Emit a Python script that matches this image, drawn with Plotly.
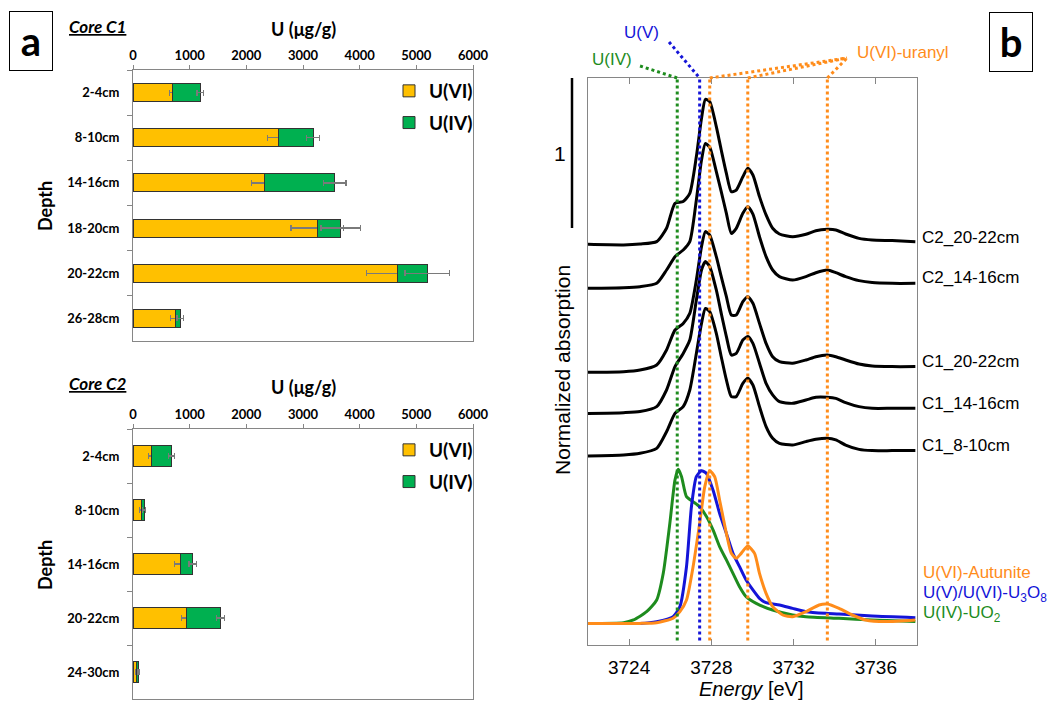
import plotly.graph_objects as go

# The page adds an 8 px body margin, so the figure is drawn 8 px smaller and
# every pixel position below is given in screenshot coordinates and shifted.
OFF = 8
W, H = 1058 - OFF, 702 - OFF

# ---------------- Panel a data ----------------
depths_c1 = ["2-4cm", "8-10cm", "14-16cm", "18-20cm", "20-22cm", "26-28cm"]
c1_u6 = [690, 2560, 2320, 3250, 4660, 745]
c1_u4 = [500, 620, 1240, 415, 530, 90]
c1_u6_err = [50, 190, 225, 460, 540, 80]
c1_u4_err = [60, 115, 200, 350, 390, 60]

depths_c2 = ["2-4cm", "8-10cm", "14-16cm", "20-22cm", "24-30cm"]
c2_u6 = [320, 150, 830, 940, 65]
c2_u4 = [360, 45, 225, 600, 40]
c2_u6_err = [50, 30, 95, 90, 20]
c2_u4_err = [50, 25, 65, 70, 15]

u_ticks = [0, 1000, 2000, 3000, 4000, 5000, 6000]

# ---------------- Panel b data ----------------
energy = [3721.95, 3723.73, 3724.53, 3725.34, 3725.82, 3726.23, 3726.63, 3726.95, 3727.27,
          3727.52, 3727.71, 3727.92, 3728.24, 3728.48, 3728.73, 3728.97, 3729.21, 3729.53,
          3729.77, 3730.02, 3730.34, 3730.66, 3730.98, 3731.31, 3731.95, 3732.60, 3733.08,
          3733.64, 3734.05, 3734.53, 3735.18, 3735.82, 3736.79, 3737.92]
c2_20_22 = [2.671, 2.667, 2.673, 2.689, 2.778, 2.944, 2.956, 3.011, 3.256, 3.511, 3.638, 3.622,
            3.456, 3.300, 3.144, 3.022, 3.033, 3.122, 3.178, 3.133, 2.989, 2.867, 2.778, 2.740,
            2.722, 2.738, 2.762, 2.771, 2.767, 2.740, 2.711, 2.700, 2.696, 2.689]
c2_14_16 = [2.378, 2.382, 2.389, 2.411, 2.500, 2.589, 2.633, 2.689, 2.967, 3.233, 3.344, 3.318,
            3.156, 3.022, 2.878, 2.744, 2.778, 2.878, 2.922, 2.873, 2.722, 2.589, 2.500, 2.456,
            2.433, 2.456, 2.482, 2.500, 2.482, 2.456, 2.429, 2.416, 2.411, 2.411]
c1_20_22 = [1.818, 1.822, 1.833, 1.867, 1.967, 2.100, 2.144, 2.211, 2.433, 2.656, 2.756, 2.733,
            2.589, 2.456, 2.322, 2.200, 2.200, 2.289, 2.322, 2.278, 2.144, 2.011, 1.922, 1.889,
            1.878, 1.900, 1.922, 1.933, 1.922, 1.900, 1.873, 1.860, 1.856, 1.856]
c1_14_16 = [1.544, 1.549, 1.556, 1.589, 1.700, 1.856, 1.944, 2.033, 2.300, 2.500, 2.556, 2.522,
            2.367, 2.211, 2.056, 1.933, 1.944, 2.033, 2.056, 2.011, 1.878, 1.744, 1.667, 1.622,
            1.611, 1.633, 1.651, 1.651, 1.644, 1.616, 1.589, 1.578, 1.578, 1.578]
c1_8_10 = [1.260, 1.267, 1.278, 1.311, 1.422, 1.544, 1.589, 1.700, 1.944, 2.144, 2.244, 2.222,
           2.078, 1.922, 1.767, 1.656, 1.656, 1.744, 1.778, 1.733, 1.589, 1.456, 1.378, 1.344,
           1.333, 1.356, 1.371, 1.378, 1.367, 1.333, 1.304, 1.296, 1.296, 1.296]
sample_names = ["C2_20-22cm", "C2_14-16cm", "C1_20-22cm", "C1_14-16cm", "C1_8-10cm"]

uo2_e = [3721.95, 3723.73, 3724.21, 3724.85, 3725.34, 3725.66, 3725.98, 3726.23, 3726.39, 3726.55,
         3726.79, 3727.11, 3727.43, 3727.76, 3728.08, 3728.40, 3728.73, 3729.05, 3729.37, 3729.69,
         3730.18, 3730.98, 3731.95, 3732.60, 3734.21, 3735.82, 3737.92]
uo2_y = [0.144, 0.149, 0.167, 0.222, 0.300, 0.478, 0.811, 1.100, 1.171, 1.122, 0.989, 0.956,
         0.922, 0.856, 0.767, 0.656, 0.567, 0.478, 0.389, 0.322, 0.278, 0.233, 0.200, 0.189,
         0.178, 0.167, 0.156]
u3o8_e = [3721.95, 3724.53, 3725.34, 3726.14, 3726.47, 3726.79, 3727.03, 3727.27, 3727.52, 3727.76,
          3728.08, 3728.40, 3728.73, 3729.05, 3729.37, 3729.69, 3730.02, 3730.34, 3730.66, 3731.31,
          3731.95, 3732.60, 3733.56, 3734.21, 3735.82, 3737.92]
u3o8_y = [0.144, 0.144, 0.156, 0.189, 0.256, 0.522, 0.922, 1.122, 1.162, 1.144, 1.033, 0.878,
          0.744, 0.611, 0.522, 0.433, 0.367, 0.311, 0.282, 0.267, 0.244, 0.222, 0.211, 0.207,
          0.193, 0.182]
aut_e = [3721.95, 3724.53, 3725.34, 3726.14, 3726.47, 3726.79, 3727.11, 3727.43, 3727.68, 3727.92,
         3728.16, 3728.40, 3728.73, 3728.97, 3729.21, 3729.45, 3729.77, 3730.10, 3730.34, 3730.66,
         3730.98, 3731.47, 3731.95, 3732.60, 3733.24, 3733.64, 3734.21, 3734.85, 3735.50, 3736.47,
         3737.92]
aut_y = [0.144, 0.144, 0.149, 0.178, 0.222, 0.300, 0.522, 0.811, 1.056, 1.162, 1.122, 0.967,
         0.744, 0.611, 0.578, 0.611, 0.660, 0.611, 0.478, 0.344, 0.256, 0.200, 0.189, 0.222,
         0.267, 0.273, 0.244, 0.200, 0.167, 0.156, 0.167]

edge_u4, edge_u5, edge_u6 = [3726.34], [3727.43], [3727.92, 3729.77, 3733.64]

YELLOW, GREEN_BAR = "#FFC000", "#00B050"
GREEN, BLUE, ORANGE = "#1E8C1E", "#1414D8", "#FF8C1A"
AXIS_GREY = "#868686"
FA = "Lato"
FB = "Liberation Sans, Arial"


def px(x):
    return (x - OFF) / W


def py(y):
    return 1 - (y - OFF) / H


fig = go.Figure()

# ---------------- Bars ----------------
for depths, u6, u4, e6, e4, xa, ya, leg, tag in [
    (depths_c1, c1_u6, c1_u4, c1_u6_err, c1_u4_err, "x", "y", "legend", "c1"),
    (depths_c2, c2_u6, c2_u4, c2_u6_err, c2_u4_err, "x2", "y2", "legend2", "c2"),
]:
    fig.add_trace(go.Bar(
        y=depths, x=u6, orientation="h", name="U(VI)", xaxis=xa, yaxis=ya,
        marker=dict(color=YELLOW, line=dict(color="#333333", width=1)),
        error_x=dict(type="data", array=e6, color="#7a7a7a", thickness=1.3, width=3),
        legend=leg, legendgroup=tag + "vi"))
    fig.add_trace(go.Bar(
        y=depths, x=u4, orientation="h", name="U(IV)", xaxis=xa, yaxis=ya,
        marker=dict(color=GREEN_BAR, line=dict(color="#333333", width=1)),
        error_x=dict(type="data", array=e4, color="#7a7a7a", thickness=1.3, width=3),
        legend=leg, legendgroup=tag + "iv"))

# ---------------- Spectra ----------------
for ys in [c2_20_22, c2_14_16, c1_20_22, c1_14_16, c1_8_10]:
    fig.add_trace(go.Scatter(x=energy, y=ys, mode="lines", xaxis="x3", yaxis="y3",
                             line=dict(color="black", width=3, shape="spline", smoothing=0.6),
                             showlegend=False))
for ex, ey, col in [(uo2_e, uo2_y, GREEN), (u3o8_e, u3o8_y, BLUE), (aut_e, aut_y, ORANGE)]:
    fig.add_trace(go.Scatter(x=ex, y=ey, mode="lines", xaxis="x3", yaxis="y3",
                             line=dict(color=col, width=3, shape="spline", smoothing=0.6),
                             showlegend=False))

tickfont_a = dict(family=FA, size=13, color="black", weight="bold")
common_x = dict(range=[0, 6000], tickvals=u_ticks, side="top", showline=True, linecolor=AXIS_GREY,
                mirror=True, showgrid=False, zeroline=False, ticks="outside", ticklen=4,
                tickcolor=AXIS_GREY, tickfont=tickfont_a, automargin=False)
common_y = dict(showline=True, linecolor=AXIS_GREY, mirror=True, showgrid=False, zeroline=False,
                ticks="outside", tickson="boundaries", ticklen=5, tickcolor=AXIS_GREY,
                tickfont=tickfont_a, autorange="reversed", ticklabelstandoff=10, automargin=False)

shapes = []
for xs, col in [(edge_u4, GREEN), (edge_u5, BLUE), (edge_u6, ORANGE)]:
    for e in xs:
        shapes.append(dict(type="line", xref="x3", yref="y3", x0=e, x1=e, y0=0.03, y1=3.78,
                           line=dict(color=col, width=3, dash="dot")))
# leader lines to top labels
shapes.append(dict(type="line", xref="x3", yref="paper", x0=3724.53, y0=py(66), x1=edge_u4[0], y1=py(78),
                   line=dict(color=GREEN, width=3, dash="dot")))
shapes.append(dict(type="line", xref="x3", yref="paper", x0=3725.94, y0=py(42), x1=edge_u5[0], y1=py(78),
                   line=dict(color=BLUE, width=3, dash="dot")))
for e in edge_u6:
    shapes.append(dict(type="line", xref="x3", yref="paper", x0=e, y0=py(78), x1=3734.60, y1=py(58),
                       line=dict(color=ORANGE, width=3, dash="dot")))
# scale bar (1 unit)
shapes.append(dict(type="line", xref="paper", yref="y3", x0=px(572), x1=px(572), y0=2.78, y1=3.78,
                   line=dict(color="black", width=2.5)))

ann = []


def A(text, x, y, size, color="black", family=FB, xanchor="center", angle=0, **kw):
    ann.append(dict(text=text, x=px(x), y=py(y), xref="paper", yref="paper", showarrow=False,
                    font=dict(family=family, size=size, color=color), xanchor=xanchor,
                    yanchor="middle", textangle=angle, **kw))


# panel letters
A("<b>a</b>", 31, 41, 40, family=FA, bordercolor="black", borderwidth=1, width=40, height=56,
  bgcolor="white")
A("<b>b</b>", 1011, 42, 40, family=FA, bordercolor="black", borderwidth=1, width=40, height=56,
  bgcolor="white")
# panel a titles
for yoff, core in [(0, "C1"), (358, "C2")]:
    A(f"<b><i><u>Core {core}</u></i></b>", 97, 26 + yoff, 17, family=FA)
    A("<b>U (μg/g)</b>", 303, 29 + yoff, 18, family=FA)
A("<b>Depth</b>", 45, 206, 18, family=FA, angle=-90)
A("<b>Depth</b>", 45, 565, 18, family=FA, angle=-90)
# panel b texts
A("U(IV)", 612, 60, 17, color=GREEN)
A("U(V)", 641, 32, 17, color=BLUE)
A("U(VI)-uranyl", 855, 52, 17, color=ORANGE, xanchor="left")
A("1", 560, 153, 21)
A("Normalized absorption", 562, 370, 21, angle=-90)
A("<i>Energy</i> [eV]", 751, 689, 20)
for name, yy in zip(sample_names, [237, 278, 362, 403, 445]):
    A(name, 920, yy, 17, xanchor="left")
A("U(VI)-Autunite", 921, 572, 17, color=ORANGE, xanchor="left")
A("U(V)/U(VI)-U<sub>3</sub>O<sub>8</sub>", 921, 594, 17, color=BLUE, xanchor="left")
A("U(IV)-UO<sub>2</sub>", 921, 614, 17, color=GREEN, xanchor="left")

legend_common = dict(font=dict(family=FA, size=19, color="black", weight="bold"),
                     bgcolor="rgba(0,0,0,0)", traceorder="grouped", tracegroupgap=4,
                     itemwidth=30, xanchor="left", yanchor="top")

fig.update_layout(
    template="none",
    width=W, height=H, margin=dict(l=0, r=0, t=0, b=0, autoexpand=False),
    paper_bgcolor="white", plot_bgcolor="white",
    barmode="stack", bargap=0.6,
    xaxis=dict(domain=[px(133), px(473)], anchor="y", **common_x),
    yaxis=dict(domain=[py(341), py(70)], anchor="x", categoryorder="array",
               categoryarray=depths_c1, **common_y),
    xaxis2=dict(domain=[px(133), px(473)], anchor="y2", **common_x),
    yaxis2=dict(domain=[py(699), py(429)], anchor="x2", categoryorder="array",
                categoryarray=depths_c2, **common_y),
    xaxis3=dict(domain=[px(588), px(917)], anchor="y3", range=[3722, 3738],
                tickvals=[3724, 3728, 3732, 3736], ticks="inside", ticklen=6, tickcolor=AXIS_GREY,
                showline=True, linecolor=AXIS_GREY, mirror="ticks", showgrid=False, zeroline=False,
                tickfont=dict(family=FB, size=19, color="black"), ticklabelstandoff=5,
                automargin=False),
    yaxis3=dict(domain=[py(645), py(78)], anchor="x3", range=[0, 3.78], showticklabels=False,
                ticks="", showline=True, linecolor=AXIS_GREY, mirror=True, showgrid=False,
                zeroline=False, automargin=False),
    legend=dict(x=px(389), y=py(72), **legend_common),
    legend2=dict(x=px(389), y=py(431), **legend_common),
    shapes=shapes, annotations=ann,
)

fig.write_html("out.html")
